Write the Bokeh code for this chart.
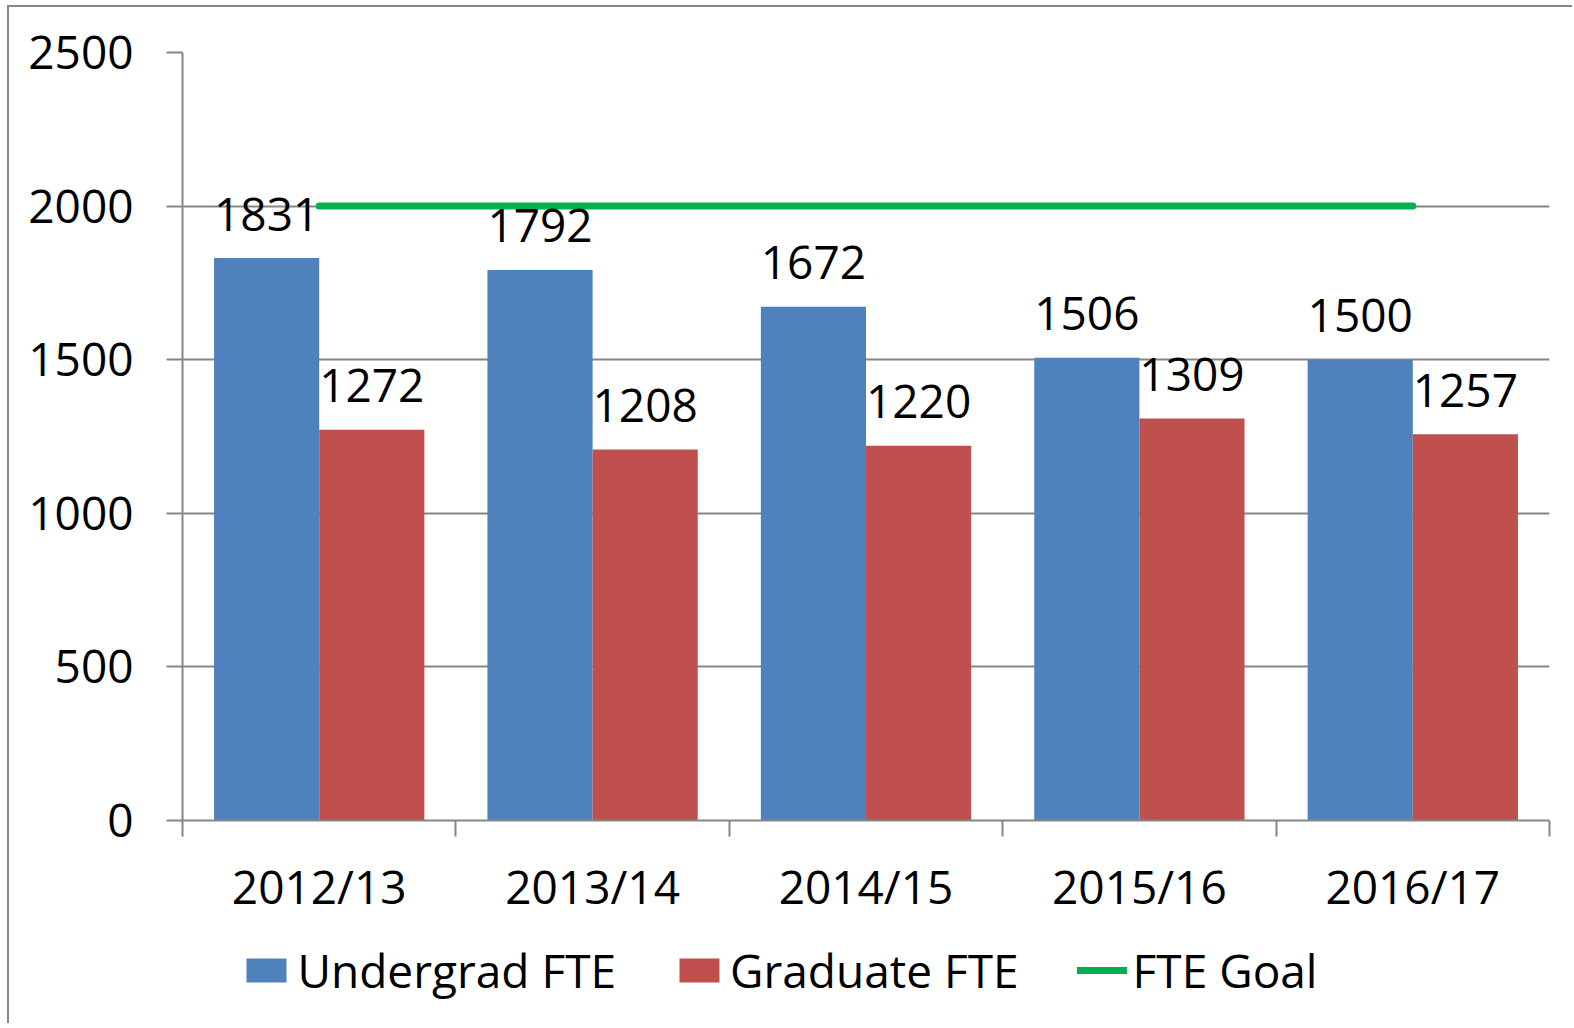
from bokeh.plotting import figure
from bokeh.layouts import column
from bokeh.models import (Range1d, LinearAxis, FixedTicker,
                          ColumnDataSource, Legend, LegendItem)
from bokeh.transform import dodge
from bokeh.core.properties import value
from bokeh.embed import file_html
from bokeh.resources import INLINE

# ---- data ----
years = ["2012/13", "2013/14", "2014/15", "2015/16", "2016/17"]
undergrad_fte = [1831, 1792, 1672, 1506, 1500]
graduate_fte = [1272, 1208, 1220, 1309, 1257]
fte_goal = [2000, 2000, 2000, 2000, 2000]
y_ticks = [0, 500, 1000, 1500, 2000, 2500]
series_names = ["Undergrad FTE", "Graduate FTE", "FTE Goal"]

FONT = "Open Sans"
FS = "46px"
GREY = "#868686"
BLUE = "#4F81BD"
RED = "#C0504D"
GREEN = "#00B050"

n = len(years)
centers = [i + 0.5 for i in range(n)]   # category slot centres on a 0..n axis

src = ColumnDataSource(dict(
    xc=centers,
    ug=undergrad_fte,
    gr=graduate_fte,
    goal=fte_goal,
    ug_lbl=[str(v) for v in undergrad_fte],
    gr_lbl=[str(v) for v in graduate_fte],
))

p = figure(x_range=Range1d(0, n), y_range=Range1d(0, y_ticks[-1]),
           frame_width=1365, frame_height=766,
           min_border_left=173, min_border_top=45, min_border_right=25, min_border_bottom=0,
           x_axis_location=None, y_axis_location="left",
           output_backend="svg", toolbar_location=None)
p.styles = {"border-left": f"2px solid {GREY}", "border-top": f"2px solid {GREY}",
            "margin-left": "7px", "margin-top": "5px"}
p.outline_line_color = None
p.background_fill_color = "white"
p.border_fill_color = "white"

# y axis
ya = p.yaxis[0]
ya.ticker = FixedTicker(ticks=y_ticks)
ya.axis_line_color = GREY
ya.axis_line_width = 2
ya.major_tick_line_color = GREY
ya.major_tick_line_width = 2
ya.major_tick_out = 16
ya.major_tick_in = 0
ya.minor_tick_line_color = None
ya.major_label_standoff = 33
ya.major_label_text_font = FONT
ya.major_label_text_font_size = FS
ya.major_label_text_color = "black"

p.xgrid.grid_line_color = None
p.ygrid.grid_line_color = GREY
p.ygrid.grid_line_width = 2
p.ygrid.ticker = FixedTicker(ticks=y_ticks)

# x axis: boundary ticks + category labels
edge_axis = LinearAxis(ticker=FixedTicker(ticks=list(range(n + 1))),
                       axis_line_color=GREY, axis_line_width=2,
                       major_tick_line_color=GREY, major_tick_line_width=2,
                       major_tick_out=16, major_tick_in=0,
                       minor_tick_line_color=None,
                       major_label_text_font_size="0px", major_label_standoff=0,
                       major_label_overrides={i: "" for i in range(n + 1)})
cat_axis = LinearAxis(ticker=FixedTicker(ticks=centers),
                      major_label_overrides={c: y for c, y in zip(centers, years)},
                      axis_line_color=None, major_tick_line_color=None,
                      minor_tick_line_color=None,
                      major_label_text_font=FONT, major_label_text_font_size=FS,
                      major_label_text_color="black", major_label_standoff=12)
p.add_layout(edge_axis, "below")
p.add_layout(cat_axis, "below")

W = 0.3846
p.vbar(x=dodge("xc", -W / 2), top="ug", width=W, bottom=0,
       source=src, fill_color=BLUE, line_color=None)
p.vbar(x=dodge("xc", W / 2), top="gr", width=W, bottom=0,
       source=src, fill_color=RED, line_color=None)
p.line(x="xc", y="goal", source=src, line_color=GREEN, line_width=7, line_cap="round")

p.text(x=dodge("xc", -W / 2), y="ug", text="ug_lbl", source=src,
       text_align="center", text_baseline="alphabetic", y_offset=-44,
       text_font=value(FONT), text_font_size=FS, text_color="black")
p.text(x=dodge("xc", W / 2), y="gr", text="gr_lbl", source=src,
       text_align="center", text_baseline="alphabetic", y_offset=-44,
       text_font=value(FONT), text_font_size=FS, text_color="black")

# ---- legend strip (separate small figure so it sits below the axis) ----
lg = figure(x_range=Range1d(0, 1), y_range=Range1d(0, 1),
            frame_width=1487, frame_height=106,
            min_border_left=54, min_border_right=0, min_border_top=0, min_border_bottom=0,
            x_axis_location=None, y_axis_location=None,
            output_backend="svg", toolbar_location=None)
lg.styles = {"border-left": f"2px solid {GREY}", "margin-left": "7px"}
lg.outline_line_color = None
lg.xgrid.visible = False
lg.ygrid.visible = False
# key swatches only: one point outside the strip's visible range
swatch = ColumnDataSource(dict(x=[-5, -4], y=[-5, -5]))
g_ug = lg.vbar(x="x", top="y", width=0.1, source=swatch, fill_color=BLUE, line_color=None)
g_gr = lg.vbar(x="x", top="y", width=0.1, source=swatch, fill_color=RED, line_color=None)
g_goal = lg.line(x="x", y="y", source=swatch, line_color=GREEN, line_width=7, line_cap="round")

legend = Legend(items=[LegendItem(label=series_names[0], renderers=[g_ug]),
                       LegendItem(label=series_names[1], renderers=[g_gr]),
                       LegendItem(label=series_names[2], renderers=[g_goal])],
                orientation="horizontal", location="center",
                glyph_width=50, glyph_height=30, label_standoff=6, spacing=58,
                label_text_font=FONT, label_text_font_size=FS, label_text_color="black",
                border_line_color=None, background_fill_alpha=0,
                padding=0, margin=0)
lg.add_layout(legend, "center")

layout = column(p, lg, spacing=0)
open("out.html", "w").write(file_html(layout, INLINE))
